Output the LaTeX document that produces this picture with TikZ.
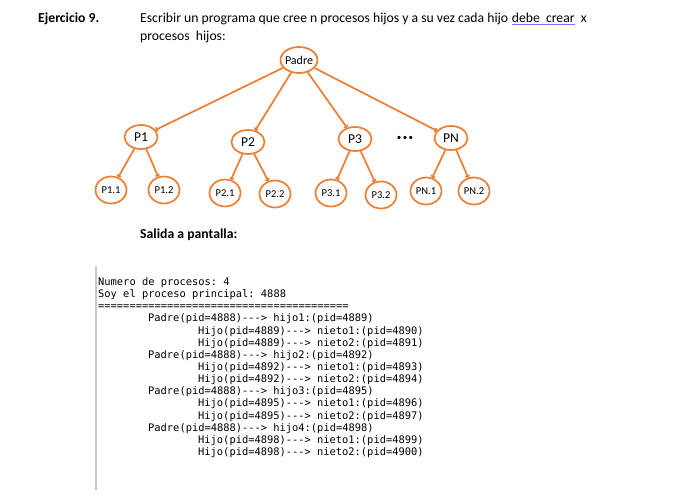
\documentclass[tikz,border=0pt]{standalone}
\usepackage{fontspec}
\setmainfont{Carlito}
\setmonofont{DejaVu Sans Mono}
\usetikzlibrary{shapes.geometric,arrows.meta}

\definecolor{naranja}{HTML}{ED7D31}
\definecolor{gris}{HTML}{C8C8C8}

\tikzset{
	texto/.style={anchor=base west,inner sep=0pt,font=\fontsize{13.7}{13.7}\selectfont},
	proc/.style={draw=naranja,line width=1.7pt,ellipse,inner sep=0pt,fill=white},
	hijo/.style={proc,minimum width=33pt,minimum height=24pt,font=\fontsize{13.5}{13.5}\selectfont},
	nieto/.style={proc,minimum width=31pt,minimum height=27pt,font=\fontsize{10.5}{10.5}\selectfont},
	rama/.style={draw=naranja,line width=1.7pt,-{To[length=2.5pt,width=5pt]}},
	consola/.style={anchor=base west,inner sep=0pt,font=\ttfamily\fontsize{10.4}{10.4}\selectfont},
}

% una linea de la salida: nombre, x, numero de linea, texto
\def\cl#1#2#3#4{\node[consola] (#1) at (#2,285.5+12.14*#3) {#4};}

\begin{document}
\begin{tikzpicture}[x=1pt,y=-1pt]
	\useasboundingbox (0,0) rectangle (678,499);
	\fill[white] (0,0) rectangle (678,499);

	% enunciado
	\node[texto,font=\bfseries\fontsize{13.7}{13.7}\selectfont] (ej) at (38,22) {Ejercicio 9.};
	\node[texto] (enun1) at (140,22) {Escribir un programa que cree n procesos hijos y a su vez cada hijo};
	\node[texto] (debe) at ([xshift=3.2pt]enun1.base east) {debe\ \ crear};
	\node[texto] (equis) at ([xshift=6pt]debe.base east) {x};
	\node[texto] (enun2) at (140,40) {procesos\ \ hijos:};
	\draw[color=blue!55,line width=0.8pt] ([yshift=-2.5pt]debe.base west) -- ([yshift=-2.5pt]debe.base east);

	% arbol
	\node[proc,minimum width=37pt,minimum height=26pt,inner xsep=-1.5pt,font=\fontsize{12}{12}\selectfont] (padre) at (299,60) {Padre};

	\node[hijo] (p1) at (141,137) {P1};
	\node[hijo] (p2) at (248,142) {P2};
	\node[hijo] (p3) at (355,139) {P3};
	\node[hijo] (pn) at (451,138) {PN};
	\node[font=\fontsize{9}{9}\selectfont] (dots) at (405,138) {\textbullet\,\textbullet\,\textbullet};

	\node[nieto] (p11) at (111,190) {P1.1};
	\node[nieto] (p12) at (164,190) {P1.2};
	\node[nieto] (p21) at (225,193) {P2.1};
	\node[nieto] (p22) at (275,194) {P2.2};
	\node[nieto] (p31) at (331,193) {P3.1};
	\node[nieto] (p32) at (381,195) {P3.2};
	\node[nieto] (pn1) at (426,191) {PN.1};
	\node[nieto] (pn2) at (474,191) {PN.2};

	\foreach \h in {p1,p2,p3,pn}
		\draw[rama] (padre) -- (\h);
	\draw[rama] (p1) -- (p11);
	\draw[rama] (p1) -- (p12);
	\draw[rama] (p2) -- (p21);
	\draw[rama] (p2) -- (p22);
	\draw[rama] (p3) -- (p31);
	\draw[rama] (p3) -- (p32);
	\draw[rama] (pn) -- (pn1);
	\draw[rama] (pn) -- (pn2);

	\node[texto,font=\bfseries\fontsize{13.7}{13.7}\selectfont] (salida) at (140,238) {Salida a pantalla:};

	% consola
	\draw[color=gris,line width=1.8pt] (96,266) -- (96,490);
	\cl{l0}{98}{0}{Numero de procesos: 4}
	\cl{l1}{98}{1}{Soy el proceso principal: 4888}
	\cl{l2}{98}{2}{========================================}
	\cl{l3}{148}{3}{Padre(pid=4888)---> hijo1:(pid=4889)}
	\cl{l4}{198}{4}{Hijo(pid=4889)---> nieto1:(pid=4890)}
	\cl{l5}{198}{5}{Hijo(pid=4889)---> nieto2:(pid=4891)}
	\cl{l6}{148}{6}{Padre(pid=4888)---> hijo2:(pid=4892)}
	\cl{l7}{198}{7}{Hijo(pid=4892)---> nieto1:(pid=4893)}
	\cl{l8}{198}{8}{Hijo(pid=4892)---> nieto2:(pid=4894)}
	\cl{l9}{148}{9}{Padre(pid=4888)---> hijo3:(pid=4895)}
	\cl{l10}{198}{10}{Hijo(pid=4895)---> nieto1:(pid=4896)}
	\cl{l11}{198}{11}{Hijo(pid=4895)---> nieto2:(pid=4897)}
	\cl{l12}{148}{12}{Padre(pid=4888)---> hijo4:(pid=4898)}
	\cl{l13}{198}{13}{Hijo(pid=4898)---> nieto1:(pid=4899)}
	\cl{l14}{198}{14}{Hijo(pid=4898)---> nieto2:(pid=4900)}
\end{tikzpicture}
\end{document}
